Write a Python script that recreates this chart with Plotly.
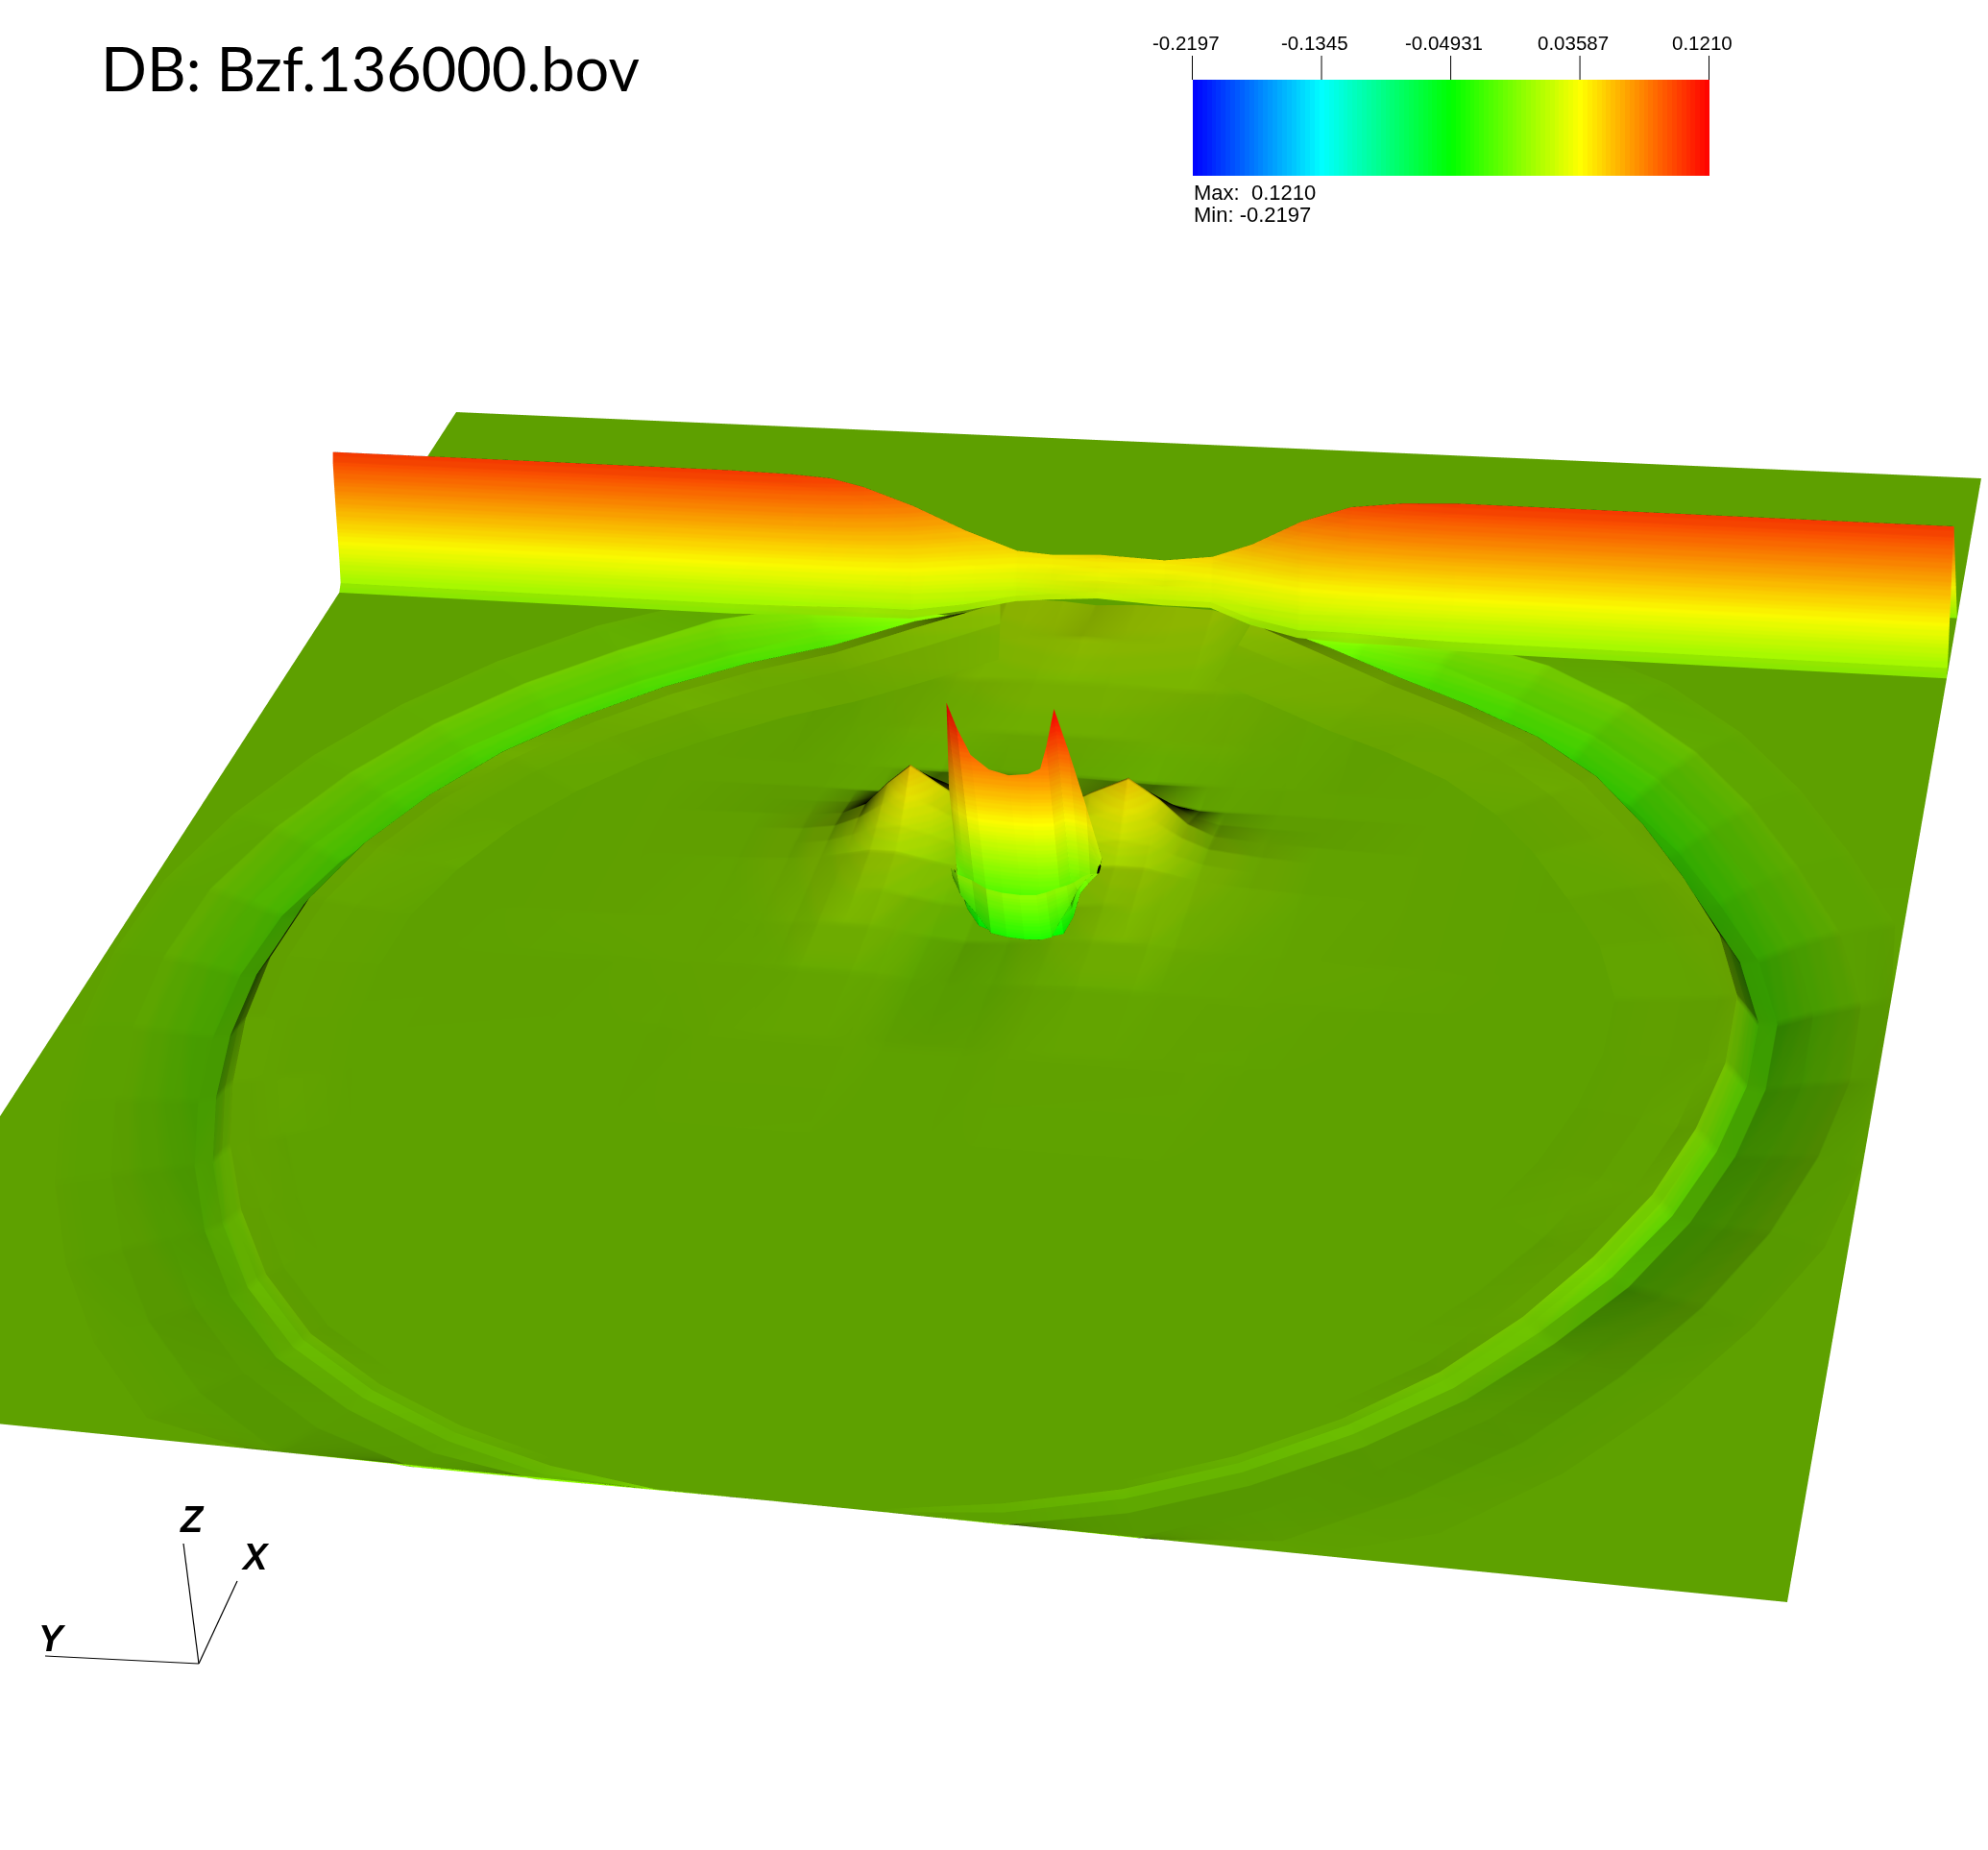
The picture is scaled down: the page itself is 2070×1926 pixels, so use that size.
import numpy as np
import plotly.graph_objects as go

W, H = 2070, 1926
CMIN, CMAX = -0.2197, 0.1210
TICK_VALS = [-0.2197, -0.1345, -0.04931, 0.03587, 0.1210]
TICK_TEXT = ["-0.2197", "-0.1345", "-0.04931", "0.03587", "0.1210"]

RIDGE_Y = [1, .9, .8, .74, .70, .675, .655, .625, .593, .562, .54, .51, .47, .44, .415, .384, .353, .322, .29, .25, .2, .1, 0]
RIDGE_FOOT = [.775, .775, .775, .775, .775, .775, .775, .775, .783, .79, .79, .79, .79, .79, .783, .775, .775, .775, .775, .775, .775, .775, .775]
RIDGE_FRAC = [0, .15, .3, .45, .6, .75, .9, 1]
RIDGE_MILLI = [
 [0, 5, 21, 40, 59, 77, 94, 101], [0, 5, 21, 40, 59, 77, 94, 101], [0, 5, 21, 40, 59, 77, 94, 101],
 [0, 5, 21, 40, 59, 77, 94, 101], [2, 6, 21, 39, 58, 76, 93, 100], [3, 7, 20, 38, 56, 73, 89, 98],
 [3, 8, 20, 36, 53, 68, 84, 92], [4, 8, 19, 32, 45, 58, 70, 78], [7, 10, 18, 28, 37, 45, 53, 59],
 [12, 15, 20, 26, 31, 36, 41, 44], [15, 18, 22, 26, 30, 34, 39, 42], [18, 22, 25, 28, 33, 37, 42, 44],
 [15, 18, 22, 26, 29, 33, 38, 42], [15, 18, 23, 28, 33, 38, 43, 47], [8, 11, 18, 28, 37, 46, 54, 59],
 [5, 8, 18, 31, 45, 58, 72, 80], [3, 8, 20, 36, 53, 70, 86, 94], [3, 6, 21, 38, 57, 75, 91, 99],
 [1, 5, 21, 40, 59, 77, 94, 101], [0, 5, 21, 40, 59, 77, 94, 101], [0, 5, 21, 40, 59, 77, 94, 101],
 [0, 5, 21, 40, 59, 77, 94, 101], [0, 5, 21, 40, 59, 77, 94, 101]]
RIDGE_CREST_X = .805
RIDGE_BACK_X = .84

RING_CX, RING_CY = .41, .49
RING_THETA = [12, 20, 28, 36, 44, 52, 60, 68, 76, 84, 92, 100, 108, 116, 124, 132, 140, 148, 156, 164, 172, 180, 188, 196, 204, 212, 220, 228, 236, 244, 252, 260, 268, 276, 284, 292, 300, 308, 316, 324, 332, 340, 348]
RING_R = [.40, .385, .378, .382, .387, .394, .401, .407, .412, .416, .416, .415, .415, .417, .42, .424, .426, .423, .42, .417, .414, .412, .412, .412, .414, .415, .415, .415, .413, .412, .413, .414, .416, .417, .41, .40, .395, .392, .387, .38, .376, .38, .39]
RING_DR = [-.07, -.035, -.015, -.005, 0, .006, .016, .035, .06, .09]
RING_MILLI = [
 [6, 10, 14, 10, -5, -20, -15, -5, 0, 0],
 [5, 7, 10, 8, -8, -28, -25, -8, 2, 0],
 [4, 5, 6, 5, -12, -35, -30, -12, 2, 0],
 [3, 4, 5, 5, -12, -35, -30, -15, -1, 0],
 [2, 3, 5, 5, -11, -33, -29, -15, -3, 0],
 [2, 3, 4, 4, -10, -30, -27, -14, -3, 0],
 [1, 2, 3, 4, -9, -26, -24, -13, -3, 0],
 [1, 2, 3, 3, -7, -22, -21, -12, -3, 0],
 [0, 2, 3, 3, -6, -19, -19, -11, -3, 0],
 [0, 1, 2, 2, -5, -16, -17, -10, -2, 0],
 [0, 1, 2, 2, -5, -14, -15, -9, -2, 0],
 [0, 1, 2, 2, -4, -12, -13, -8, -2, 0],
 [0, 1, 1, 1, -3, -10, -11, -7, -2, 0],
 [0, 0, 1, 1, -2, -8, -9, -6, -2, 0],
 [0, 0, .5, 1, -2, -5, -7, -5, -2, 0],
 [0, 0, 0, .5, -1, -4, -5, -4, -1, 0],
 [0, 0, 0, .5, -.5, -2.5, -4, -3, -1, 0],
 [0, 0, 0, 0, -.5, -2, -3, -2.5, -.5, 0],
 [0, 0, 0, 0, -.5, -1.5, -2, -1.5, -.5, 0],
 [0, 0, 0, 0, 0, -1, -1.5, -1, 0, 0],
 [0, 0, 0, 0, 0, -.5, -.5, 0, 0, 0],
 [0, 0, 0, 0, 0, 0, 0, 0, 0, 0],
 [0, 0, 0, 0, 0, 0, 0, 0, 0, 0],
 [0, 0, 0, 0, 0, -.5, -.5, 0, 0, 0],
 [0, 0, 0, 0, 0, -1, -1.5, -.5, 0, 0],
 [0, 0, 0, 0, -.5, -1.5, -2, -1, 0, 0],
 [0, 0, 0, 0, -.5, -2, -3, -2, -.5, 0],
 [0, 0, 0, .5, -1, -3, -4, -3, -1, 0],
 [0, 0, .5, .5, -1.5, -4, -6, -4, -1, 0],
 [0, 0, 1, 1, -3, -9, -11, -7, -2, 0],
 [0, 1, 1, 1, -3, -11, -12, -8, -2, 0],
 [0, 1, 1, 2, -4, -13, -14, -9, -2, 0],
 [0, 1, 2, 2, -5, -15, -16, -10, -3, 0],
 [0, 1, 2, 3, -6, -18, -19, -11, -3, 0],
 [1, 2, 3, 3, -7, -21, -21, -12, -3, 0],
 [1, 2, 3, 4, -9, -25, -24, -13, -3, 0],
 [2, 3, 4, 4, -10, -29, -26, -14, -3, 0],
 [2, 3, 5, 5, -11, -32, -28, -15, -3, 0],
 [3, 4, 5, 5, -12, -35, -30, -15, -2, 0],
 [4, 5, 6, 5, -12, -35, -30, -14, 0, 0],
 [4, 6, 7, 6, -11, -33, -28, -10, 2, 0],
 [5, 8, 10, 8, -8, -27, -23, -7, 2, 0],
 [6, 10, 14, 10, -5, -20, -15, -5, 0, 0]]

INNER_Y = [.80, .72, .66, .63, .61, .595, .58, .565, .55, .53, .51, .485, .46, .437, .42, .405, .39, .36, .33, .27, .20]
INNER_X = [.28, .36, .42, .46, .49, .52, .535, .55, .565, .58, .595, .62, .66, .71, .75, .785]
INNER_MILLI = [
 [0, 0, 0, 0, 0, 0, 0, 0, 0, 0, 0, 0, 0, 0, 0, 0, 0, 0, 0, 0, 0],
 [0, 0, 0, .5, .5, .5, .5, .5, .5, 0, 0, 0, .5, .5, .5, .5, .5, .5, 0, 0, 0],
 [0, 0, .5, 1, 1.5, 2, 2, 2, 1, -1, -1.5, -1, 1, 2, 2, 2, 1.5, 1, .5, 0, 0],
 [0, .5, 1, 2, 3, 5, 5, 5, 3, -1, -3, -1, 3, 5, 5, 5, 3, 2, 1, .5, 0],
 [0, .5, 1.5, 3, 5, 8, 10, 9, 5, 1, -1, 1, 5, 9, 10, 8, 5, 3, 1.5, .5, 0],
 [0, .5, 2, 4, 7, 11, 15, 15, 11, 6, 2, 6, 11, 15, 15, 11, 7, 4, 2, .5, 0],
 [0, .5, 2, 4, 8, 14, 21, 24, 19, 10, 5, 10, 19, 24, 21, 14, 8, 4, 2, .5, 0],
 [0, .5, 2, 4, 8, 16, 28, 36, 29, 15, 8, 15, 29, 36, 28, 16, 8, 4, 2, .5, 0],
 [0, .5, 2, 3, 6, 15, 34, 50, 36, 18, 8, 18, 36, 50, 34, 15, 6, 3, 2, .5, 0],
 [0, .5, 1.5, 2, 3, 8, 20, 32, 24, 12, 6, 12, 24, 32, 20, 8, 3, 2, 1.5, .5, 0],
 [0, .5, 1, 1.5, 1, 1, 4, 8, 8, 6, 4, 6, 8, 8, 4, 1, 1, 1.5, 1, .5, 0],
 [0, .5, 1, 1.5, 1.5, 1, .5, 0, 1, 2, 2, 2, 1, 0, .5, 1, 1.5, 1.5, 1, .5, 0],
 [0, .5, .5, 2, 2.5, 3, 3, 3, 3, 3, 3, 3, 3, 3, 3, 3, 2.5, 2, .5, .5, 0],
 [0, .5, 0, 2.5, 3.5, 4.5, 5.5, 6, 7, 8, 8, 8, 7, 6, 5.5, 4.5, 3.5, 2.5, 0, .5, 0],
 [0, 0, 0, 1, 3, 7, 9, 12, 13, 14, 15, 14, 13, 12, 9, 7, 3, 1, 0, 0, 0],
 [0, 0, 0, 0, 1, 6, 12, 17, 18, 18, 16, 18, 18, 17, 12, 6, 1, 0, 0, 0, 0]]

HORN_CREST_X = [.545, .542, .538, .536, .535, .534, .534, .535, .536, .542, .54, .536, .53]
HORN_CREST_Y = [.537, .5315, .526, .519, .509, .4975, .486, .479, .4745, .4695, .463, .455, .447]
HORN_FOOT_X = [.525, .52, .515, .508, .505, .504, .505, .508, .512, .516, .52, .525, .528]
HORN_FOOT_Y = [.535, .53, .52, .51, .50, .4895, .48, .475, .4706, .465, .461, .458, .455]
HORN_FRAC = [0, .05, .12, .28, .4, .5, .6, .7, .78, .84, .9, .95, 1]
HORN_MILLI = [
 [0, -5, -10, -10, -8, -10, -15, -20, -10, 0, 15, 30, 50],
 [0, -10, -20, -20, -25, -30, -40, -40, -15, 15, 50, 85, 121],
 [0, -15, -30, -25, -22, -35, -50, -50, -20, 10, 45, 75, 105],
 [0, -20, -40, -30, -20, -30, -50, -50, -20, 5, 35, 60, 85],
 [0, -20, -40, -30, -20, -30, -50, -50, -20, 3, 30, 53, 75],
 [0, -20, -40, -30, -20, -30, -50, -50, -20, 0, 25, 50, 72],
 [0, -20, -40, -30, -20, -30, -50, -50, -20, 0, 27, 51, 74],
 [0, -20, -40, -30, -20, -30, -50, -50, -20, 3, 30, 55, 78],
 [0, -15, -30, -25, -22, -35, -50, -50, -20, 8, 40, 68, 95],
 [0, -10, -20, -20, -25, -30, -40, -40, -15, 15, 50, 85, 121],
 [0, -5, -10, -10, -8, -10, -20, -20, -5, 15, 40, 65, 90],
 [0, -2, -5, -5, -5, -5, -10, -10, 0, 10, 22, 36, 50],
 [0, 0, 0, 0, 0, 0, 0, 0, 2, 4, 6, 9, 12]]

ORIGIN = np.array([.35527, -.30323, -1.0])
DIR_X = np.array([.23748, .57135, -.3406])
DIR_Y = np.array([-.94187, .06478, -.10883])
DIR_H = np.array([-.0767, .6629, .2103])
EYE_OFFSET = 1.25


def place(x, y, h, depth=1.0):
    x, y, h = np.asarray(x, float), np.asarray(y, float), np.asarray(h, float)
    c = [ORIGIN[i] + x * DIR_X[i] + y * DIR_Y[i] + h * DIR_H[i] for i in range(3)]
    return depth * c[0], depth * c[1], depth * c[2] + EYE_OFFSET


stops = np.array([[0, 0, 255], [0, 255, 255], [0, 255, 0], [255, 255, 0], [255, 0, 0]], float)
N_BANDS = 110
colorscale = []
for i in range(N_BANDS):
    t = (i + .5) / N_BANDS * 4
    j = min(int(t), 3)
    c = stops[j] + (stops[j + 1] - stops[j]) * (t - j)
    col = f"rgb({c[0]:.0f},{c[1]:.0f},{c[2]:.0f})"
    colorscale += [[i / N_BANDS, col], [(i + 1) / N_BANDS, col]]

LIGHT = dict(ambient=0.0, diffuse=1.0, specular=0.0, roughness=1.0, fresnel=0.0)
LIGHT_POS = dict(x=0, y=1.11, z=1.001)


def sheet(x, y, h, depth, **kw):
    X, Y, Z = place(x, y, h, depth)
    return go.Surface(x=X, y=Y, z=Z, surfacecolor=h, cmin=CMIN, cmax=CMAX, colorscale=colorscale,
                      showscale=kw.pop("showscale", False), lighting=LIGHT, lightposition=LIGHT_POS,
                      hoverinfo="skip", contours=dict(x=dict(highlight=False), y=dict(highlight=False), z=dict(highlight=False)), **kw)


fig = go.Figure()

gx, gy = np.meshgrid([0.0, 1.0], [0.0, 1.0], indexing="ij")
fig.add_trace(sheet(gx, gy, np.zeros((2, 2)), 1.09, showscale=True, colorbar=dict(
    orientation="h", x=1241.5 / W, xanchor="left", y=1 - 183 / H, yanchor="bottom",
    lenmode="pixels", len=538, thicknessmode="pixels", thickness=100, xpad=0, ypad=0,
    outlinewidth=0, ticks="", showticklabels=False)))

ix, iy = np.meshgrid(INNER_X, INNER_Y, indexing="ij")
fig.add_trace(sheet(ix, iy, np.array(INNER_MILLI) / 1000, 1.06))

th = np.radians(RING_THETA)
rr = np.array(RING_R)[:, None] + np.array(RING_DR)[None, :]
rx = np.clip(RING_CX + rr * np.cos(th)[:, None], 0, .785)
ry = np.clip(RING_CY + rr * np.sin(th)[:, None], 0, 1)
fig.add_trace(sheet(rx, ry, np.array(RING_MILLI) / 1000, 1.02))

foot = np.array(RIDGE_FOOT)[:, None]
frac = np.array(RIDGE_FRAC)[None, :]
fx = np.hstack([foot + frac * (RIDGE_CREST_X - foot), np.full((len(RIDGE_Y), 1), RIDGE_BACK_X)])
fy = np.repeat(np.array(RIDGE_Y)[:, None], len(RIDGE_FRAC) + 1, axis=1)
fh = np.hstack([np.array(RIDGE_MILLI) / 1000, np.zeros((len(RIDGE_Y), 1))])
fig.add_trace(sheet(fx, fy, fh, 1.0))

hf = np.array(HORN_FRAC)[None, :]
hx = np.array(HORN_FOOT_X)[:, None] + hf * (np.array(HORN_CREST_X) - np.array(HORN_FOOT_X))[:, None]
hy = np.array(HORN_FOOT_Y)[:, None] + hf * (np.array(HORN_CREST_Y) - np.array(HORN_FOOT_Y))[:, None]
fig.add_trace(sheet(hx, hy, np.array(HORN_MILLI) / 1000, 1.0))

ax = dict(visible=False, range=[-1, 1], autorange=False, showspikes=False)
fig.update_layout(
    width=W, height=H, margin=dict(l=0, r=0, t=0, b=0), paper_bgcolor="white", showlegend=False,
    scene=dict(domain=dict(x=[0, 1], y=[0, 1]), xaxis=ax, yaxis=ax, zaxis=ax, bgcolor="white",
               aspectmode="manual", aspectratio=dict(x=1, y=1, z=1),
               camera=dict(eye=dict(x=0, y=0, z=EYE_OFFSET / 2), center=dict(x=0, y=0, z=0), up=dict(x=0, y=1, z=0),
                           projection=dict(type="perspective"))),
)


def note(text, px, py, size, family="Liberation Sans", anchor="left"):
    fig.add_annotation(text=text, x=px / W, y=1 - py / H, xref="paper", yref="paper", showarrow=False,
                       xanchor=anchor, yanchor="middle", font=dict(family=family, size=size, color="black"))


def stroke(a, b, c, d, width=1.2):
    fig.add_shape(type="line", xref="paper", yref="paper", x0=a / W, y0=1 - b / H, x1=c / W, y1=1 - d / H,
                  line=dict(color="black", width=width))


note("DB: Bzf.136000.bov", 103, 70, 63, family="Lato")
note("Max:  0.1210", 1241, 201, 22)
note("Min: -0.2197", 1241, 223, 22)
for v, t in zip(TICK_VALS, TICK_TEXT):
    px = 1241.5 + (v - CMIN) / (CMAX - CMIN) * 538
    stroke(px, 58, px, 83, 1)
    note(t, px - 7, 45, 20.5, anchor="center")
note("<b><i>X</i></b>", 266, 1621, 38, anchor="center")
note("<b><i>Y</i></b>", 54, 1706, 38, anchor="center")
note("<b><i>Z</i></b>", 200, 1582, 38, anchor="center")
for (a, b, c, d) in [(207, 1732, 47, 1724), (207, 1732, 191, 1607), (207, 1732, 247, 1646)]:
    stroke(a, b, c, d)

fig.write_html("out.html", config=dict(displayModeBar=False), post_script="document.body.style.margin='0';")
